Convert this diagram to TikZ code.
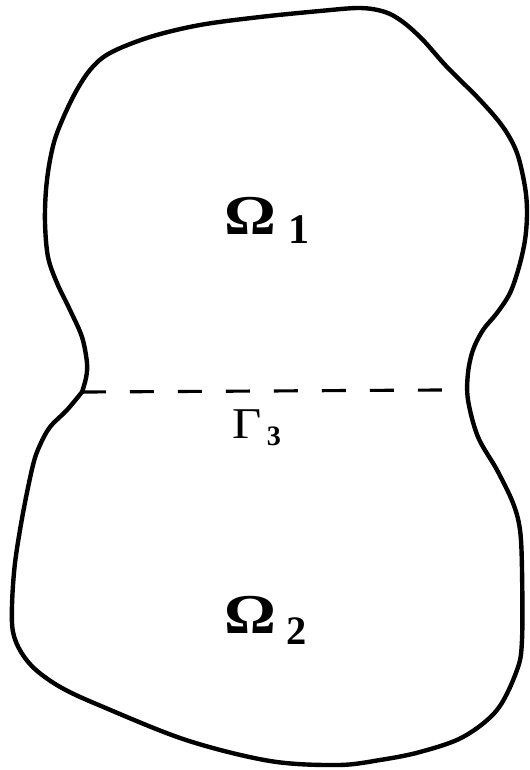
\documentclass[tikz,border=0pt]{standalone}
\usepackage{fontspec}
\setmainfont{Liberation Serif}
\begin{document}
\begin{tikzpicture}[x=0.02cm,y=-0.02cm,
  boundary/.style={line width=2.5pt,line join=round,line cap=round},
  interface/.style={line width=1.8pt,dash pattern=on 0.48cm off 0.48cm},
  lbl/.style={anchor=base west,inner sep=0pt}]
\useasboundingbox (0,0) rectangle (529,770);
\coordinate (gl) at (82,392);
\coordinate (gr) at (444,390);
\draw[boundary] plot[smooth,tension=0.55] coordinates {
(82,392) (86,378) (87,363) (82,337) (70,310) (57,283) (48,257) (45,223)
(46,190) (50,160) (57,133) (73,97) (90,70) (110,53) (150,37) (200,25)
(260,17) (320,11) (360,8) (385,12) (403,22) (423,40) (447,67) (480,100)
(503,127) (517,153) (525,187) (527,213) (525,240) (519,267) (510,293)
(497,313) (483,330) (473,350) (468,373) (468,400) (478,437) (497,470)
(513,503) (520,530) (522,570) (522,640) (517,670) (497,710) (463,737)
(420,752) (380,760) (338,765) (270,761) (186,740) (101,706) (62,688)
(36,670) (21,652) (13,632) (12,605) (15,563) (23,513) (33,465) (40,445) (50,427)
(67,410) (82,392)};
\draw[interface] (gl) -- (gr);
\node[lbl] (om1) at (224,235) {\bfseries\scalebox{1.15}[1]{\fontsize{32}{32}\selectfont Ω}\hspace{7pt}\raisebox{-5pt}{\fontsize{24}{24}\selectfont 1}};
\node[lbl] (g3) at (232,438) {\scalebox{1.15}[1]{\fontsize{25}{25}\selectfont Γ}\hspace{3pt}\raisebox{-4.5pt}{\bfseries\fontsize{16}{16}\selectfont 3}};
\node[lbl] (om2) at (224,633) {\bfseries\scalebox{1.15}[1]{\fontsize{32}{32}\selectfont Ω}\hspace{6pt}\raisebox{-6.5pt}{\fontsize{23}{23}\selectfont 2}};
\end{tikzpicture}
\end{document}
